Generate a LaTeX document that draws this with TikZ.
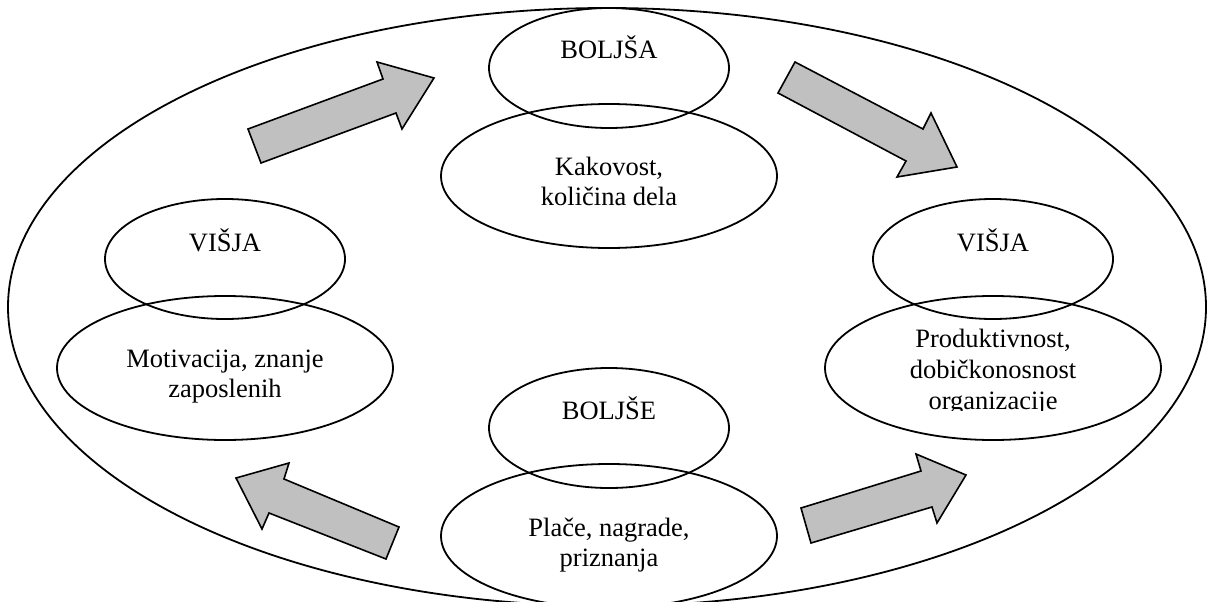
\documentclass[tikz,border=0pt]{standalone}
\usepackage{fontspec}
\setmainfont{Liberation Serif}
\usetikzlibrary{shapes.geometric}
\definecolor{arrowgray}{RGB}{192,192,192}
\begin{document}
\begin{tikzpicture}[x=1pt,y=-1pt,
  oval/.style={draw, ellipse, line width=1.8pt, inner sep=0pt},
  smalloval/.style={oval, minimum width=240pt, minimum height=120pt},
  largeoval/.style={oval, minimum width=336pt, minimum height=144pt},
  lbl/.style={anchor=base, inner sep=0pt, font=\fontsize{26.5}{30}\selectfont},
  blockarrow/.style={draw, fill=arrowgray, line width=1.6pt, line join=miter}
]
\useasboundingbox (0,0) rectangle (1208,602);

% outer cycle
\node[oval, minimum width=1198pt, minimum height=598pt] (outer) at (607,307) {};

% top: BOLJŠA / Kakovost
\node[smalloval] (boljsa) at (609,68) {};
\node[largeoval] (kakovost) at (609,176) {};
\node[lbl] (tboljsa) at (609,59) {BOLJŠA};
\node[lbl] (tkak1) at (609,175) {Kakovost,};
\node[lbl] (tkak2) at (609,205) {količina dela};

% left: VIŠJA / Motivacija
\node[smalloval] (visjaL) at (225,259) {};
\node[largeoval] (motiv) at (225,368) {};
\node[lbl] (tvisjaL) at (225,251) {VIŠJA};
\node[lbl] (tmot1) at (225,367) {Motivacija, znanje};
\node[lbl] (tmot2) at (225,397) {zaposlenih};

% right: VIŠJA / Produktivnost
\node[smalloval] (visjaR) at (993,259) {};
\node[largeoval] (produkt) at (993,368) {};
\node[lbl] (tvisjaR) at (993,251) {VIŠJA};
\node[lbl] (tpro1) at (993,347) {Produktivnost,};
\node[lbl] (tpro2) at (993,378) {dobičkonosnost};
\begin{scope}
  \clip (850,380) rectangle (1140,410);
  \node[lbl] (tpro3) at (993,409) {organizacije};
\end{scope}

% bottom: BOLJŠE / Plače
\node[smalloval] (boljse) at (609,428) {};
\node[largeoval] (place) at (609,536) {};
\node[lbl] (tboljse) at (609,419) {BOLJŠE};
\node[lbl] (tpla1) at (609,536) {Plače, nagrade,};
\node[lbl] (tpla2) at (609,566) {priznanja};

% block arrows
\draw[blockarrow] (248,129) -- (383,79) -- (377,62) -- (434,78) -- (402,129) -- (396,113) -- (261,163) -- cycle;
\draw[blockarrow] (795,62) -- (923,129) -- (931,113) -- (957,167) -- (897,177) -- (906,161) -- (778,93) -- cycle;
\draw[blockarrow] (399,527) -- (284,479) -- (289,463) -- (236,478) -- (262,529) -- (269,513) -- (386,559) -- cycle;
\draw[blockarrow] (801,508) -- (921,471) -- (916,454) -- (966,475) -- (937,523) -- (932,507) -- (811,543) -- cycle;
\end{tikzpicture}
\end{document}
